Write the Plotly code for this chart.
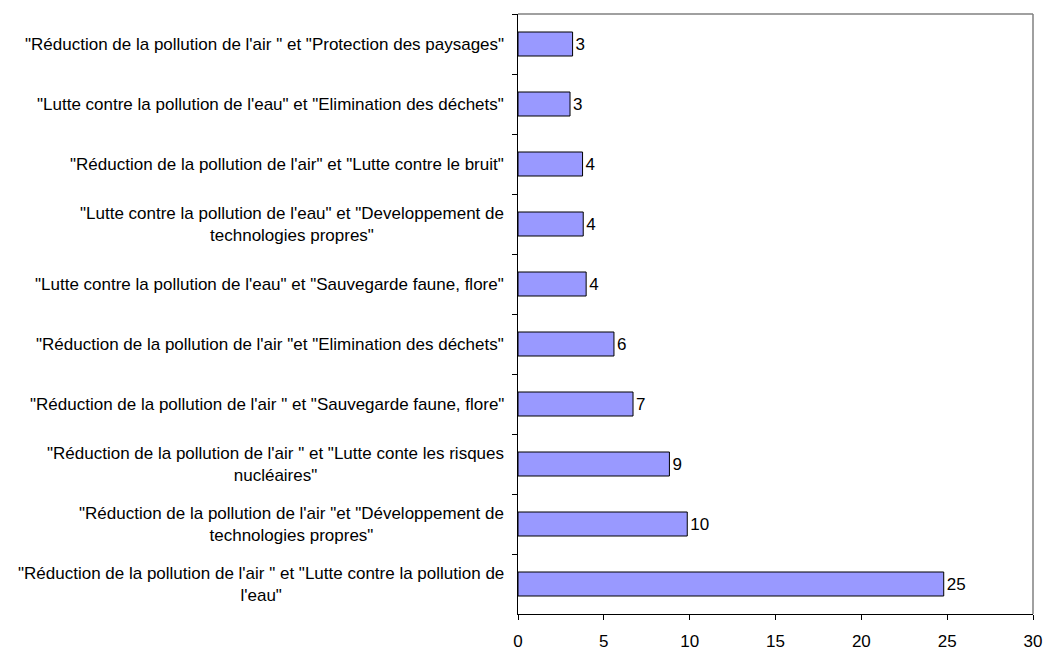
import plotly.graph_objects as go

categories = [
    '"Réduction de la pollution de l\'air " et "Protection des paysages"',
    '"Lutte contre la pollution de l\'eau" et "Elimination des déchets"',
    '"Réduction de la pollution de l\'air" et "Lutte contre le bruit"',
    '"Lutte contre la pollution de l\'eau" et "Developpement de technologies propres"',
    '"Lutte contre la pollution de l\'eau" et "Sauvegarde faune, flore"',
    '"Réduction de la pollution de l\'air "et "Elimination des déchets"',
    '"Réduction de la pollution de l\'air " et "Sauvegarde faune, flore"',
    '"Réduction de la pollution de l\'air " et "Lutte conte les risques nucléaires"',
    '"Réduction de la pollution de l\'air "et "Développement de technologies propres"',
    '"Réduction de la pollution de l\'air " et "Lutte contre la pollution de l\'eau"',
]
tick_labels = [
    '"Réduction de la pollution de l\'air " et "Protection des paysages"',
    '"Lutte contre la pollution de l\'eau" et "Elimination des déchets"',
    '"Réduction de la pollution de l\'air" et "Lutte contre le bruit"',
    '"Lutte contre la pollution de l\'eau" et "Developpement de<br>technologies propres"',
    '"Lutte contre la pollution de l\'eau" et "Sauvegarde faune, flore"',
    '"Réduction de la pollution de l\'air "et "Elimination des déchets"',
    '"Réduction de la pollution de l\'air " et "Sauvegarde faune, flore"',
    '"Réduction de la pollution de l\'air " et "Lutte conte les risques<br>nucléaires"',
    '"Réduction de la pollution de l\'air "et "Développement de<br>technologies propres"',
    '"Réduction de la pollution de l\'air " et "Lutte contre la pollution de<br>l\'eau"',
]
values = [3.18, 3.03, 3.76, 3.80, 3.97, 5.59, 6.70, 8.82, 9.86, 24.8]
x_ticks = [0, 5, 10, 15, 20, 25, 30]

FONT = "Liberation Sans, Arial, sans-serif"
FS = 17

fig = go.Figure(go.Bar(
    x=values, y=categories, orientation="h",
    marker=dict(color="#9999FF", line=dict(color="black", width=1)),
    width=0.4,
    texttemplate="%{x:.0f}", textposition="outside",
    textfont=dict(family=FONT, size=FS, color="black"),
    cliponaxis=False,
))

annotations = [
    dict(x=0, xref="paper", y=c, yref="y", text=t, showarrow=False,
         xanchor="right", yanchor="middle", align="center", xshift=-12,
         font=dict(family=FONT, size=FS, color="black"))
    for c, t in zip(categories, tick_labels)
]

fig.update_layout(
    width=1044, height=654,
    margin=dict(l=518, r=11, t=14, b=40, autoexpand=False),
    paper_bgcolor="white", plot_bgcolor="white",
    showlegend=False,
    font=dict(family=FONT, size=FS, color="black"),
    annotations=annotations,
    shapes=[
        dict(type="line", xref="paper", yref="paper", x0=0, x1=1, y0=1, y1=1,
             line=dict(color="#808080", width=1.5)),
        dict(type="line", xref="paper", yref="paper", x0=1, x1=1, y0=0, y1=1,
             line=dict(color="#808080", width=1.5)),
    ],
    xaxis=dict(range=[0, 30], tickvals=x_ticks, ticks="outside", ticklen=5,
               tickcolor="black", showline=True, linecolor="black", linewidth=1,
               showgrid=False, zeroline=False, ticklabelstandoff=7,
               automargin=False,
               tickfont=dict(family=FONT, size=FS, color="black")),
    yaxis=dict(autorange="reversed", showticklabels=False, ticks="outside",
               tickson="boundaries", ticklen=5, tickcolor="black",
               showline=True, linecolor="black", linewidth=1, showgrid=False,
               automargin=False),
)

fig.write_html("out.html", config={"displayModeBar": False},
               post_script="document.body.style.margin='0';document.body.style.overflow='hidden';")
